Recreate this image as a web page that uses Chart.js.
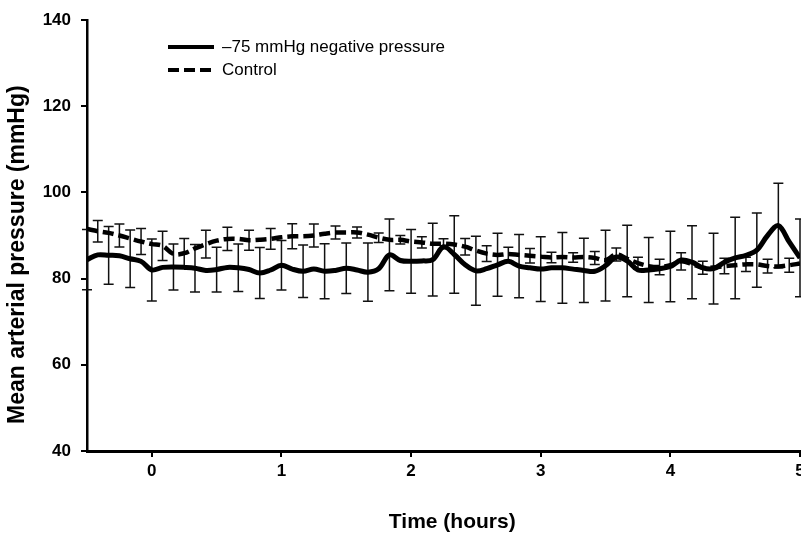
<!DOCTYPE html>
<html>
<head>
<meta charset="utf-8">
<script src="https://cdn.jsdelivr.net/npm/chart.js@4.4.0/dist/chart.umd.min.js"></script>
<style>
  html, body { margin: 0; padding: 0; background: #fff; }
</style>
</head>
<body>
<canvas id="myChart" width="801" height="540"></canvas>
<script>
// time in hours, one reading every 5 min
const times = [-0.5, -0.417, -0.333, -0.25, -0.167, -0.083, 0, 0.083, 0.167, 0.25, 0.333, 0.417,
    0.5, 0.583, 0.667, 0.75, 0.833, 0.917, 1, 1.083, 1.167, 1.25, 1.333, 1.417,
    1.5, 1.583, 1.667, 1.75, 1.833, 1.917, 2, 2.083, 2.167, 2.25, 2.333, 2.417,
    2.5, 2.583, 2.667, 2.75, 2.833, 2.917, 3, 3.083, 3.167, 3.25, 3.333, 3.417,
    3.5, 3.583, 3.667, 3.75, 3.833, 3.917, 4, 4.083, 4.167, 4.25, 4.333, 4.417,
    4.5, 4.583, 4.667, 4.75, 4.833, 4.917, 5];

const negPressure = [84.4, 85.5, 85.4, 85.3, 84.6, 84.0, 82.0, 82.6, 82.7, 82.6,
    82.4, 81.9, 82.1, 82.6, 82.5, 82.1, 81.3, 82.0, 83.1, 82.2,
    81.7, 82.2, 81.7, 81.9, 82.4, 82.0, 81.5, 82.3, 85.5, 84.2,
    84.0, 84.1, 84.4, 87.4, 85.6, 83.2, 81.8, 82.3, 83.2, 84.0,
    82.9, 82.5, 82.2, 82.5, 82.5, 82.2, 81.9, 81.7, 83.0, 85.0,
    84.1, 82.0, 82.0, 82.3, 82.8, 84.3, 83.8, 82.5, 82.3, 83.8,
    84.8, 85.4, 86.6, 90.0, 92.3, 88.5, 84.8];

// SD shown every 10 min (null = no bar at that reading)
const negPressureSd = [7.0, null, 6.7, null, 6.65, null, 7.2, null, 5.35, null, 5.5, null,
    5.2, null, 5.5, null, 5.9, null, 5.75, null, 6.1, null, 6.4, null,
    5.85, null, 6.75, null, 8.3, null, 7.4, null, 8.45, null, 9.0, null,
    8.0, null, 7.3, null, 7.35, null, 7.5, null, 8.2, null, 7.45, null,
    8.2, null, 8.3, null, 7.55, null, 8.2, null, 8.45, null, 8.2, null,
    9.45, null, 8.6, null, 9.8, null, 9.0];

const control = [91.5, 91.0, 90.6, 90.0, 89.3, 88.6, 88.0, 87.6, 85.7, 85.9,
    87.0, 88.0, 88.8, 89.2, 89.2, 88.9, 89.0, 89.2, 89.6, 89.8,
    89.8, 90.0, 90.4, 90.7, 90.7, 90.7, 90.2, 89.5, 89.0, 89.0,
    88.6, 88.4, 88.1, 88.1, 87.9, 87.4, 86.5, 85.8, 85.5, 85.7,
    85.5, 85.3, 85.1, 84.9, 85.0, 84.9, 85.0, 84.8, 84.3, 85.6,
    84.6, 83.6, 82.9, 82.7, 83.1, 84.0, 83.4, 82.5, 82.6, 82.9,
    83.1, 83.3, 83.3, 82.9, 82.8, 83.1, 83.5];

const controlSd = [null, 2.5, null, 2.65, null, 3.0, null, 3.4, null, 3.4, null, 3.2,
    null, 2.7, null, 2.3, null, 2.4, null, 2.9, null, 2.65, null, 1.5,
    null, 1.3, null, 1.1, null, 1.0, null, 1.3, null, 1.15, null, 1.9,
    null, 1.85, null, 1.6, null, 1.7, null, 1.2, null, 1.1, null, 1.5,
    null, 1.5, null, 1.35, null, 1.8, null, 2.0, null, 1.5, null, 1.8,
    null, 1.65, null, 1.6, null, 1.65, null];

const xTicks = [0, 1, 2, 3, 4, 5];
const yTicks = [40, 60, 80, 100, 120, 140];

Chart.defaults.font.family = '"Liberation Sans", Arial, sans-serif';
Chart.defaults.color = '#000';

// mean +/- SD bars with little caps
const errorBars = {
    id: 'errorBars',
    beforeDatasetsDraw(chart) {
        const { ctx, scales: { x, y } } = chart;
        ctx.save();
        ctx.strokeStyle = '#111';
        ctx.lineWidth = 1.5;
        chart.data.datasets.forEach(ds => {
            ds.sd.forEach((s, i) => {
                if (s === null) return;
                const px = x.getPixelForValue(ds.data[i].x);
                const top = y.getPixelForValue(ds.data[i].y + s);
                const bot = y.getPixelForValue(ds.data[i].y - s);
                ctx.beginPath();
                ctx.moveTo(px, top); ctx.lineTo(px, bot);
                ctx.moveTo(px - 5, top); ctx.lineTo(px + 5, top);
                ctx.moveTo(px - 5, bot); ctx.lineTo(px + 5, bot);
                ctx.stroke();
            });
        });
        ctx.restore();
    }
};

// legend sitting inside the plot, top left
const legendBox = {
    id: 'legendBox',
    afterDraw(chart) {
        const ctx = chart.ctx;
        const left = chart.chartArea.left + 81;
        ctx.save();
        ctx.font = '17px "Liberation Sans", Arial, sans-serif';
        ctx.textBaseline = 'middle';
        ctx.fillStyle = '#000';
        chart.data.datasets.forEach((ds, i) => {
            const yy = chart.chartArea.top + 27 + i * 23;
            ctx.strokeStyle = '#000';
            ctx.lineWidth = 4;
            ctx.setLineDash(ds.borderDash || []);
            ctx.beginPath();
            ctx.moveTo(left, yy);
            ctx.lineTo(left + 46, yy);
            ctx.stroke();
            ctx.fillText(ds.label, left + 54, yy);
        });
        ctx.restore();
    }
};

const tickFont = { size: 17, weight: 'bold' };
const axisGrid = { drawOnChartArea: false, drawTicks: true, tickLength: 6, color: '#000', lineWidth: 2 };

new Chart(document.getElementById('myChart'), {
    type: 'line',
    data: {
        datasets: [{
            label: '–75 mmHg negative pressure',
            data: times.map((t, i) => ({ x: t, y: negPressure[i] })),
            sd: negPressureSd,
            borderColor: '#000',
            borderWidth: 5,
            pointRadius: 0,
            tension: 0.35,
            fill: false
        }, {
            label: 'Control',
            data: times.map((t, i) => ({ x: t, y: control[i] })),
            sd: controlSd,
            borderColor: '#000',
            borderWidth: 4.5,
            borderDash: [11, 5],
            pointRadius: 0,
            tension: 0.35,
            fill: false
        }]
    },
    options: {
        responsive: false,
        animation: false,
        layout: { padding: { top: 20, right: 1, left: 0, bottom: 0 } },
        plugins: { legend: { display: false }, tooltip: { enabled: false } },
        scales: {
            x: {
                type: 'linear',
                min: -0.5,
                max: 5,
                afterBuildTicks: s => { s.ticks = xTicks.map(v => ({ value: v })); },
                ticks: { font: tickFont, padding: 4, maxRotation: 0 },
                grid: axisGrid,
                border: { color: '#000', width: 3 },
                title: { display: true, text: '   Time (hours)', font: { size: 21, weight: 'bold' }, padding: { top: 4, bottom: 5 } },
                afterFit: s => { s.height = 89; s.paddingLeft = 0; s.paddingRight = 0; }
            },
            y: {
                min: 40,
                max: 140,
                afterBuildTicks: s => { s.ticks = yTicks.map(v => ({ value: v })); },
                ticks: { font: tickFont, padding: 10 },
                grid: axisGrid,
                border: { color: '#000', width: 2.5 },
                title: { display: true, text: 'Mean arterial pressure (mmHg)      ', font: { size: 23, weight: 'bold' }, padding: { top: 4, bottom: 0 } },
                afterFit: s => { s.width = 87; s.paddingTop = 0; s.paddingBottom = 0; }
            }
        }
    },
    plugins: [errorBars, legendBox]
});
</script>
</body>
</html>
